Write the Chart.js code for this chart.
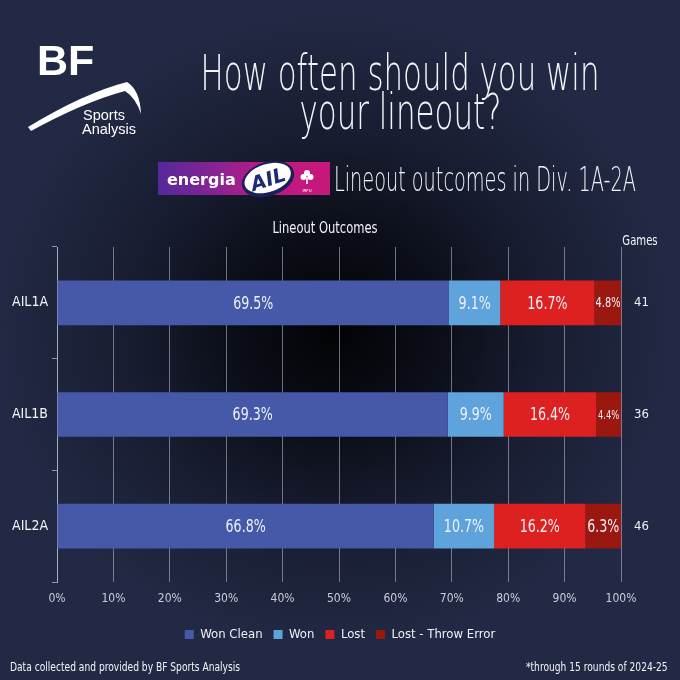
<!DOCTYPE html>
<html>
<head>
<meta charset="utf-8">
<script src="https://cdn.jsdelivr.net/npm/chart.js@4.4.1/dist/chart.umd.min.js"></script>
<style>
  html, body { margin: 0; padding: 0; }
  body {
    width: 680px; height: 680px; overflow: hidden; position: relative;
    background: #232a47;
    background: radial-gradient(ellipse 340px 320px at 335px 330px, #020305 0%, #0b0e18 30%, #181d31 62%, #222944 100%), #232a47;
    font-family: "Liberation Sans Narrow", "DejaVu Sans Condensed", sans-serif;
    color: #f2f4f8;
  }
  .abs { position: absolute; white-space: nowrap; }
  .narrow { transform-origin: center center; display: inline-block; }
  #title { left: 0; width: 800px; top: 54px; text-align: center; font-family: "DejaVu Sans", sans-serif; font-weight: 200; font-size: 50px; line-height: 39px; }
  #subtitle { left: 334px; top: 160px; font-size: 33px; font-family: "DejaVu Sans", sans-serif; font-weight: 200; transform-origin: left center; }
  #chartTitle { left: 325px; top: 218px; font-size: 16px; transform: translateX(-50%) scaleX(0.8); }
  #games { left: 640px; top: 232px; font-size: 14px; transform: translateX(-50%) scaleX(0.8); }
  #foot1 { left: 10px; top: 659px; font-size: 13px; transform-origin: left center; transform: scaleX(0.78); }
  #foot2 { right: 12px; top: 659px; font-size: 13px; transform-origin: right center; transform: scaleX(0.78); }
  #badge {
    left: 158px; top: 162px; width: 172px; height: 33px;
    background: linear-gradient(90deg, #55299a 0%, #8a2392 35%, #b91b84 60%, #c8177a 100%);
  }
  canvas { position: absolute; left: 0; top: 0; }
</style>
</head>
<body>
<canvas id="lineoutChart" width="680" height="680"></canvas>

<!-- BF Sports Analysis logo -->
<svg class="abs" style="left:0;top:0" width="160" height="150" viewBox="0 0 160 150">
  <text x="37" y="75" font-family="Liberation Sans, Arial, sans-serif" font-weight="bold" font-size="43" fill="#fff">BF</text>
  <path d="M28 127 Q 84 93 127 82 Q 140 90 141 114 Q 136 98 125 91 Q 84 102 31 131 Z" fill="#fff"/>
  <text x="83" y="120" font-family="Liberation Sans, Arial, sans-serif" font-size="14.5" fill="#fff">Sports</text>
  <text x="82" y="134" font-family="Liberation Sans, Arial, sans-serif" font-size="14.5" fill="#fff">Analysis</text>
</svg>

<div id="title" class="abs"><span class="narrow" id="t1">How often should you win</span><br><span class="narrow" id="t2">your lineout?</span></div>

<!-- energia AIL badge -->
<div id="badge" class="abs">
  <svg width="172" height="40" viewBox="0 0 172 40" style="position:absolute;left:0;top:0;overflow:visible">
    <text x="9" y="23" font-family="DejaVu Sans, sans-serif" font-weight="bold" font-size="16" fill="#fff">energia</text>
    <g transform="translate(110 17) rotate(-18)">
      <ellipse cx="0" cy="0" rx="27" ry="17" fill="#1d1f5c"/>
      <ellipse cx="0" cy="-1" rx="24" ry="14" fill="#fff"/>
      <text x="0" y="7" text-anchor="middle" font-family="DejaVu Sans, sans-serif" font-weight="bold" font-style="italic" font-size="20" fill="#1d2a7a">AIL</text>
    </g>
    <g transform="translate(149 15)" fill="#fff">
      <circle cx="0" cy="-4" r="3"/>
      <circle cx="-3.5" cy="0" r="3"/>
      <circle cx="3.5" cy="0" r="3"/>
      <rect x="-0.8" y="0" width="1.6" height="7"/>
      <text x="0" y="15" text-anchor="middle" font-size="4" font-family="DejaVu Sans">IRFU</text>
    </g>
  </svg>
</div>
<div id="subtitle" class="abs">Lineout outcomes in Div. 1A-2A</div>

<div id="chartTitle" class="abs">Lineout Outcomes</div>
<div id="games" class="abs">Games</div>

<div id="foot1" class="abs">Data collected and provided by BF Sports Analysis</div>
<div id="foot2" class="abs">*through 15 rounds of 2024-25</div>

<script>
// Du lieu bieu do
const divisions = ['AIL1A', 'AIL1B', 'AIL2A'];
const wonClean = [69.5, 69.3, 66.8];
const wonOther = [9.1, 9.9, 10.7];
const lost = [16.7, 16.4, 16.2];
const throwError = [4.8, 4.4, 6.3];
const gamesPlayed = [41, 36, 46];
const percentTicks = [0, 10, 20, 30, 40, 50, 60, 70, 80, 90, 100];

const FONT = '"Liberation Sans Narrow", "DejaVu Sans Condensed", sans-serif';

// ep chieu ngang tieu de cho giong font Agency
function squeeze(el, targetWidth) {
    const w = el.getBoundingClientRect().width;
    el.style.transform = 'scaleX(' + (targetWidth / w) + ')';
}
squeeze(document.getElementById('t1'), 399);
squeeze(document.getElementById('t2'), 202);
squeeze(document.getElementById('subtitle'), 302);

// Nhan phan tram tren tung doan thanh
const barLabels = {
    id: 'barLabels',
    afterDatasetsDraw(chart) {
        const ctx = chart.ctx;
        ctx.save();
        ctx.fillStyle = '#eef1f8';
        ctx.textAlign = 'center';
        ctx.textBaseline = 'middle';
        chart.data.datasets.forEach(function(ds, i) {
            const meta = chart.getDatasetMeta(i);
            meta.data.forEach(function(bar, j) {
                const text = ds.data[j].toFixed(1) + '%';
                const width = Math.abs(bar.x - bar.base);
                let size = 18;
                ctx.font = size + 'px ' + FONT;
                while (size > 9 && ctx.measureText(text).width * 0.78 > width - 2) {
                    size -= 1;
                    ctx.font = size + 'px ' + FONT;
                }
                const cx = (bar.x + bar.base) / 2;
                ctx.save();
                ctx.translate(cx, bar.y);
                ctx.scale(0.78, 1);
                ctx.fillText(text, 0, 1);
                ctx.restore();
            });
        });
        ctx.restore();
    }
};

new Chart(document.getElementById('lineoutChart'), {
    type: 'bar',
    data: {
        labels: divisions,
        datasets: [
            { label: 'Won Clean', data: wonClean, backgroundColor: '#4659a8' },
            { label: 'Won', data: wonOther, backgroundColor: '#5ea3db' },
            { label: 'Lost', data: lost, backgroundColor: '#dd2120' },
            { label: 'Lost - Throw Error', data: throwError, backgroundColor: '#9a180f' }
        ]
    },
    options: {
        indexAxis: 'y',
        responsive: false,
        animation: false,
        devicePixelRatio: 1,
        layout: { padding: { top: 247, left: 0, right: 0, bottom: 29 } },
        datasets: {
            bar: { categoryPercentage: 1, barPercentage: 0.4, borderWidth: 0 }
        },
        plugins: {
            legend: {
                position: 'bottom',
                labels: {
                    color: '#eef1f8',
                    boxWidth: 9,
                    boxHeight: 9,
                    padding: 11,
                    font: { family: FONT, size: 13 }
                }
            },
            tooltip: { enabled: false }
        },
        scales: {
            x: {
                stacked: true,
                min: 0,
                max: 100,
                afterBuildTicks: function(scale) {
                    scale.ticks = percentTicks.map(function(v) { return { value: v }; });
                },
                ticks: {
                    color: '#c9cedb',
                    padding: 10,
                    font: { family: FONT, size: 12 },
                    callback: function(value) { return value + '%'; }
                },
                grid: { color: 'rgba(190,196,212,0.55)', lineWidth: 1, drawTicks: false },
                border: { display: false },
                afterFit: function(scale) { scale.height = 35; }
            },
            y: {
                stacked: true,
                ticks: {
                    color: '#f2f4f8',
                    padding: 4,
                    font: { family: FONT, size: 14 }
                },
                grid: { drawOnChartArea: false, tickLength: 5, color: 'rgba(190,196,212,0.7)' },
                border: { display: true, color: 'rgba(190,196,212,0.7)' },
                afterFit: function(scale) { scale.width = 57; }
            },
            games: {
                type: 'category',
                axis: 'y',
                position: 'right',
                labels: gamesPlayed.map(String),
                offset: true,
                ticks: {
                    color: '#eef1f8',
                    padding: 5,
                    font: { family: FONT, size: 13 }
                },
                grid: { display: false },
                border: { display: false },
                afterFit: function(scale) { scale.width = 59; }
            }
        }
    },
    plugins: [barLabels]
});
</script>
</body>
</html>
